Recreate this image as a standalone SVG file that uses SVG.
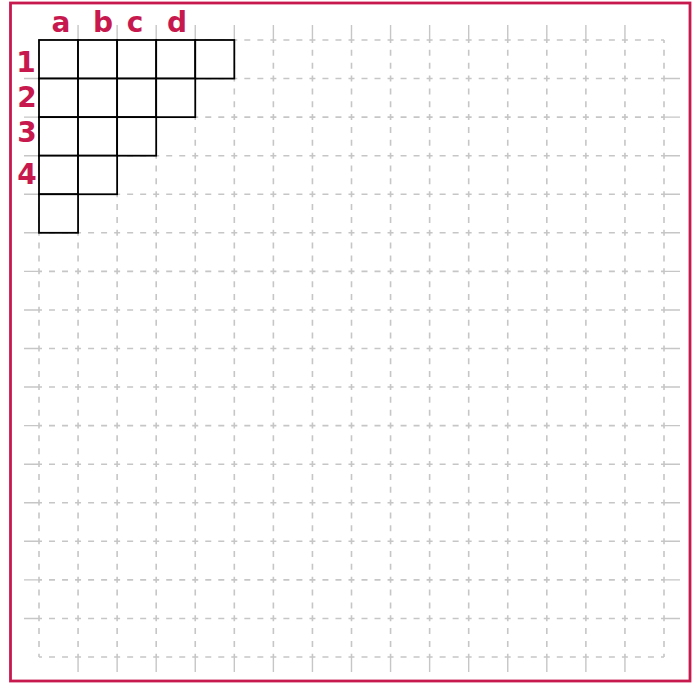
<svg xmlns="http://www.w3.org/2000/svg" width="696" height="683" viewBox="0 0 696 683">
<style>
.h{stroke:#c6c6c6;stroke-width:1.6;fill:none;stroke-dasharray:6 7.02;stroke-dashoffset:3}
.v{stroke:#c6c6c6;stroke-width:1.6;fill:none;stroke-dasharray:6 6.85;stroke-dashoffset:3}
.ext{stroke:#c6c6c6;stroke-width:1.4;fill:none}
.cell{fill:#fff;stroke:#000;stroke-width:1.8}
.lbl{font-family:"DejaVu Sans",sans-serif;font-weight:bold;font-size:28px;fill:#c8194f;text-anchor:middle}
</style>
<rect x="0" y="0" width="696" height="683" fill="#fff"/>
<rect x="10.5" y="3" width="679.5" height="678" fill="none" stroke="#c8194f" stroke-width="2.8"/>
<g id="grid">
<g id="hlines">
<line class="h" x1="39" y1="40" x2="664" y2="40"/>
<line class="h" x1="39" y1="78.56" x2="664" y2="78.56"/>
<line class="h" x1="39" y1="117.13" x2="664" y2="117.13"/>
<line class="h" x1="39" y1="155.69" x2="664" y2="155.69"/>
<line class="h" x1="39" y1="194.25" x2="664" y2="194.25"/>
<line class="h" x1="39" y1="232.81" x2="664" y2="232.81"/>
<line class="h" x1="39" y1="271.38" x2="664" y2="271.38"/>
<line class="h" x1="39" y1="309.94" x2="664" y2="309.94"/>
<line class="h" x1="39" y1="348.5" x2="664" y2="348.5"/>
<line class="h" x1="39" y1="387.06" x2="664" y2="387.06"/>
<line class="h" x1="39" y1="425.63" x2="664" y2="425.63"/>
<line class="h" x1="39" y1="464.19" x2="664" y2="464.19"/>
<line class="h" x1="39" y1="502.75" x2="664" y2="502.75"/>
<line class="h" x1="39" y1="541.31" x2="664" y2="541.31"/>
<line class="h" x1="39" y1="579.88" x2="664" y2="579.88"/>
<line class="h" x1="39" y1="618.44" x2="664" y2="618.44"/>
<line class="h" x1="39" y1="657" x2="664" y2="657"/>
</g>
<g id="vlines">
<line class="v" x1="39" y1="40" x2="39" y2="657"/>
<line class="v" x1="78.06" y1="40" x2="78.06" y2="657"/>
<line class="v" x1="117.13" y1="40" x2="117.13" y2="657"/>
<line class="v" x1="156.19" y1="40" x2="156.19" y2="657"/>
<line class="v" x1="195.25" y1="40" x2="195.25" y2="657"/>
<line class="v" x1="234.31" y1="40" x2="234.31" y2="657"/>
<line class="v" x1="273.38" y1="40" x2="273.38" y2="657"/>
<line class="v" x1="312.44" y1="40" x2="312.44" y2="657"/>
<line class="v" x1="351.5" y1="40" x2="351.5" y2="657"/>
<line class="v" x1="390.56" y1="40" x2="390.56" y2="657"/>
<line class="v" x1="429.63" y1="40" x2="429.63" y2="657"/>
<line class="v" x1="468.69" y1="40" x2="468.69" y2="657"/>
<line class="v" x1="507.75" y1="40" x2="507.75" y2="657"/>
<line class="v" x1="546.81" y1="40" x2="546.81" y2="657"/>
<line class="v" x1="585.88" y1="40" x2="585.88" y2="657"/>
<line class="v" x1="624.94" y1="40" x2="624.94" y2="657"/>
<line class="v" x1="664" y1="40" x2="664" y2="657"/>
</g>
<path id="extensions" class="ext" d="M78.06 25V40M117.13 25V40M156.19 25V40M195.25 25V40M234.31 25V40M273.38 25V40M312.44 25V40M351.5 25V40M390.56 25V40M429.63 25V40M468.69 25V40M507.75 25V40M546.81 25V40M585.88 25V40M624.94 25V40
M78.06 657V672M117.13 657V672M156.19 657V672M195.25 657V672M234.31 657V672M273.38 657V672M312.44 657V672M351.5 657V672M390.56 657V672M429.63 657V672M468.69 657V672M507.75 657V672M546.81 657V672M585.88 657V672M624.94 657V672
M24 78.56H39M24 117.13H39M24 155.69H39M24 194.25H39M24 232.81H39M24 271.38H39M24 309.94H39M24 348.5H39M24 387.06H39M24 425.63H39M24 464.19H39M24 502.75H39M24 541.31H39M24 579.88H39M24 618.44H39
M664 78.56H680M664 117.13H680M664 155.69H680M664 194.25H680M664 232.81H680M664 271.38H680M664 309.94H680M664 348.5H680M664 387.06H680M664 425.63H680M664 464.19H680M664 502.75H680M664 541.31H680M664 579.88H680M664 618.44H680"/>
</g>
<g id="cells">
<g id="row1">
<rect class="cell" x="39" y="40" width="39.06" height="38.56"/>
<rect class="cell" x="78.06" y="40" width="39.07" height="38.56"/>
<rect class="cell" x="117.13" y="40" width="39.06" height="38.56"/>
<rect class="cell" x="156.19" y="40" width="39.06" height="38.56"/>
<rect class="cell" x="195.25" y="40" width="39.06" height="38.56"/>
</g>
<g id="row2">
<rect class="cell" x="39" y="78.56" width="39.06" height="38.57"/>
<rect class="cell" x="78.06" y="78.56" width="39.07" height="38.57"/>
<rect class="cell" x="117.13" y="78.56" width="39.06" height="38.57"/>
<rect class="cell" x="156.19" y="78.56" width="39.06" height="38.57"/>
</g>
<g id="row3">
<rect class="cell" x="39" y="117.13" width="39.06" height="38.56"/>
<rect class="cell" x="78.06" y="117.13" width="39.07" height="38.56"/>
<rect class="cell" x="117.13" y="117.13" width="39.06" height="38.56"/>
</g>
<g id="row4">
<rect class="cell" x="39" y="155.69" width="39.06" height="38.56"/>
<rect class="cell" x="78.06" y="155.69" width="39.07" height="38.56"/>
</g>
<g id="row5">
<rect class="cell" x="39" y="194.25" width="39.06" height="38.56"/>
</g>
</g>
<g id="labels">
<text class="lbl" x="61" y="32">a</text>
<text class="lbl" x="103" y="32">b</text>
<text class="lbl" x="135" y="32">c</text>
<text class="lbl" x="177" y="32">d</text>
<text class="lbl" x="26" y="72">1</text>
<text class="lbl" x="27" y="107">2</text>
<text class="lbl" x="27" y="142">3</text>
<text class="lbl" x="27" y="184">4</text>
</g>
</svg>
